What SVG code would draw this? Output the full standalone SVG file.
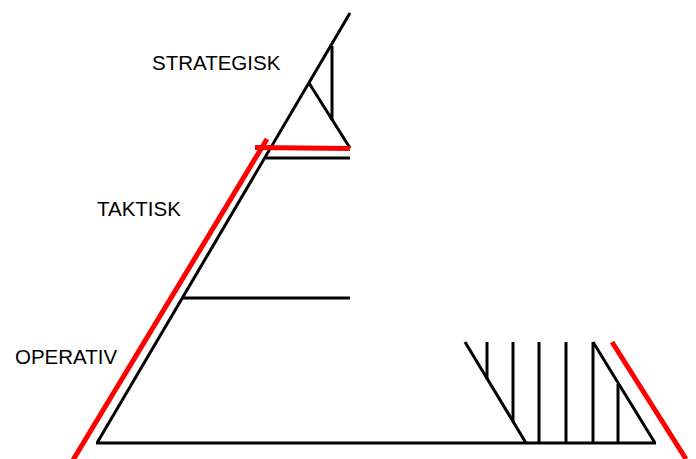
<svg xmlns="http://www.w3.org/2000/svg" width="696" height="459" viewBox="0 0 696 459">
<style>
.k{stroke:#000;stroke-width:3;fill:none;stroke-linecap:butt}
.r{stroke:#f00;stroke-width:5;fill:none}
.t{font-family:"Liberation Sans",Arial,sans-serif;font-size:20.5px;fill:#000}
</style>
<rect width="696" height="459" fill="#fff"/>
<g id="connectors">
<line class="k" x1="350" y1="13" x2="97" y2="443"/>
<line class="k" x1="96" y1="443" x2="656" y2="443"/>
<line class="k" x1="183" y1="298" x2="350" y2="298"/>
<line class="k" x1="266" y1="158" x2="350" y2="158"/>
<line class="k" x1="309" y1="83" x2="350" y2="148"/>
<line class="k" x1="332" y1="46" x2="332" y2="120"/>
<line class="k" x1="465" y1="342" x2="526" y2="443"/>
<line class="k" x1="593" y1="342" x2="655" y2="443"/>
<line class="k" x1="487" y1="342" x2="487" y2="379"/>
<line class="k" x1="513" y1="342" x2="513" y2="422"/>
<line class="k" x1="539" y1="342" x2="539" y2="443"/>
<line class="k" x1="566" y1="342" x2="566" y2="443"/>
<line class="k" x1="593" y1="342" x2="593" y2="443"/>
<line class="k" x1="618" y1="384" x2="618" y2="443"/>
<line class="r" x1="267" y1="139" x2="73" y2="460"/>
<line class="r" x1="255" y1="147.5" x2="350" y2="148.5"/>
<line class="r" x1="612" y1="342" x2="686" y2="459"/>
</g>
<g id="strategisk"><text class="t" x="152" y="70">STRATEGISK</text></g>
<g id="taktisk"><text class="t" x="97" y="216">TAKTISK</text></g>
<g id="operativ"><text class="t" x="15" y="364">OPERATIV</text></g>
</svg>
